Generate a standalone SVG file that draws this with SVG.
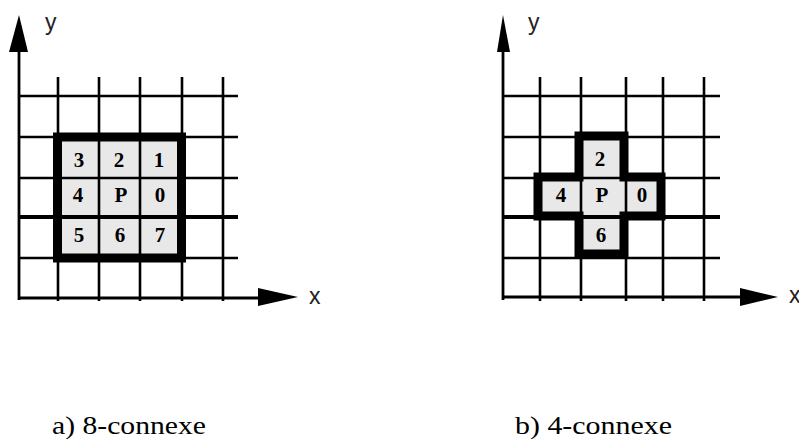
<svg xmlns="http://www.w3.org/2000/svg" width="799" height="439" viewBox="0 0 799 439">
<style>
.grid{stroke:#000;stroke-width:2.6;fill:none}
.heavy{stroke:#000;stroke-width:4;fill:none}
.axis{stroke:#000;stroke-width:2.8;fill:none}
.head{fill:#000}
.cell{fill:#e8e8e8}
.box{fill:none;stroke:#000;stroke-width:9;stroke-linejoin:miter}
.dig{font-family:"Liberation Serif",serif;font-weight:bold;font-size:21px;text-anchor:middle;fill:#000}
.ax{font-family:"Liberation Sans",Arial,sans-serif;font-size:23px;fill:#222}
.cap{font-family:"Liberation Serif",serif;font-size:25px;fill:#000}
</style>
<rect width="799" height="439" fill="#fff"/>
<g id="panel-a">
  <g id="cells-a">
    <rect class="cell" x="58" y="137" width="124" height="121"/>
  </g>
  <g id="grid-a">
    <path class="grid" d="M58,77V301M99,77V301M140,77V301M182,77V301M223,77V301"/>
    <path class="grid" d="M19,96H238M19,137H238M19,178H238M19,258H238"/>
    <path class="heavy" d="M19,217H238"/>
  </g>
  <g id="axes-a">
    <path class="axis" d="M19,300V50"/>
    <polygon class="head" points="9,52 19,15 28,52"/>
    <path class="axis" d="M18,298H260"/>
    <polygon class="head" points="258,288 298,297 258,306"/>
    <text class="ax" x="45" y="30">y</text>
    <text class="ax" x="309" y="304">x</text>
  </g>
  <g id="box-a">
    <rect class="box" x="57.5" y="137" width="124" height="121"/>
  </g>
  <g id="labels-a">
    <text class="dig" x="79" y="167">3</text>
    <text class="dig" x="119" y="167">2</text>
    <text class="dig" x="159" y="167">1</text>
    <text class="dig" x="78" y="202">4</text>
    <text class="dig" x="121" y="202">P</text>
    <text class="dig" x="160" y="202">0</text>
    <text class="dig" x="79" y="242">5</text>
    <text class="dig" x="120" y="242">6</text>
    <text class="dig" x="160" y="242">7</text>
  </g>
  <text id="caption-a" class="cap" x="52" y="434" textLength="154" lengthAdjust="spacingAndGlyphs">a) 8-connexe</text>
</g>
<g id="panel-b">
  <g id="cells-b">
    <path class="cell" d="M581,137H626V178H663V217H626V258H581V217H540V178H581Z"/>
  </g>
  <g id="grid-b">
    <path class="grid" d="M540,77V301M581,77V301M626,77V301M663,77V301M704,77V301"/>
    <path class="grid" d="M503,96H720M503,137H720M503,178H720M503,258H720"/>
    <path class="heavy" d="M503,217H720"/>
  </g>
  <g id="axes-b">
    <path class="axis" d="M503,300V50"/>
    <polygon class="head" points="497,52 503,15 510,52"/>
    <path class="axis" d="M502,297H742"/>
    <polygon class="head" points="740,288 778,297 740,306"/>
    <text class="ax" x="528" y="30">y</text>
    <text class="ax" x="789" y="303">x</text>
  </g>
  <g id="box-b">
    <path class="box" d="M579,136H624V177H661V216H624V254H579V216H538V177H579Z"/>
  </g>
  <g id="labels-b">
    <text class="dig" x="600" y="166">2</text>
    <text class="dig" x="561" y="202">4</text>
    <text class="dig" x="602" y="202">P</text>
    <text class="dig" x="642" y="202">0</text>
    <text class="dig" x="601" y="242">6</text>
  </g>
  <text id="caption-b" class="cap" x="515" y="434" textLength="157" lengthAdjust="spacingAndGlyphs">b) 4-connexe</text>
</g>
</svg>
